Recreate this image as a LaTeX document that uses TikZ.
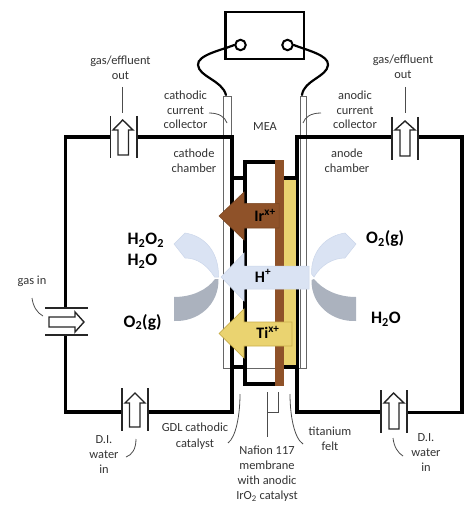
\documentclass[tikz,border=0pt]{standalone}
\usepackage{fontspec}
\setmainfont{Carlito}
\definecolor{txt}{HTML}{333333}
\definecolor{brn}{HTML}{8F5229}
\definecolor{brnb}{HTML}{7A4622}
\definecolor{ylw}{HTML}{EAD370}
\definecolor{ylwb}{HTML}{C9AE4A}
\definecolor{lblue}{HTML}{DAE3F3}
\definecolor{lblueb}{HTML}{CBD6EA}
\definecolor{gry}{HTML}{ABB2BE}
\tikzset{
  lab/.style={text=txt,font=\fontsize{12.4}{14}\selectfont,align=center,inner sep=0pt},
  chem/.style={text=black,font=\bfseries\fontsize{17.5}{18}\selectfont,inner sep=0pt},
  ion/.style={text=black,font=\bfseries\fontsize{16}{16}\selectfont,inner sep=0pt},
  wall/.style={line width=3.8pt,black,line cap=butt,line join=miter},
  plate/.style={line width=1.2pt,black!85},
  lead/.style={line width=0.8pt,black!70},
  hollow/.style={draw=black!85,fill=white,line width=1.4pt,line join=miter},
  wire/.style={line width=2.2pt,black,line cap=round},
}
\begin{document}
\begin{tikzpicture}[x=1pt,y=-1pt]
\useasboundingbox (0,0) rectangle (474,510);
% battery
\draw[line width=2.6pt] (225.5,12) rectangle (304,59);
\node[circle,draw,line width=2pt,fill=white,minimum size=10.5pt,inner sep=0pt] (tL) at (240.5,45) {};
\node[circle,draw,line width=2pt,fill=white,minimum size=10.5pt,inner sep=0pt] (tR) at (287.5,45) {};
% collectors
\draw[draw=black!60,fill=white,line width=0.7pt] (223.5,96) rectangle (231,368);
\draw[draw=black!60,fill=white,line width=0.7pt] (300,96) rectangle (306,368);
\draw[draw=black!60,line width=0.7pt] (223.5,368) -- (306,368);
% wires
\coordinate (cL) at (226,95);
\coordinate (cR) at (302,95);
\draw[wire] (tL.west) .. controls (222,50) and (197,55) .. (198,65) .. controls (199,77) and (222,80) .. (cL);
\draw[wire] (tR.east) .. controls (306,50) and (329,55) .. (328,65) .. controls (327,77) and (304,80) .. (cR);
% chamber walls
\draw[wall] (111,137) -- (65.5,137) -- (65.5,308);
\draw[wall] (65.5,335) -- (65.5,412) -- (122,412);
\draw[wall] (148,412) -- (232,412) -- (232,137) -- (137,137);
\draw[wall] (392,137) -- (297,137) -- (297,412) -- (381,412);
\draw[wall] (418,137) -- (462,137) -- (462,412.5) -- (407,412.5);
\draw[wall] (232,178) -- (245,178);
\draw[wall] (232,367) -- (245,367);
\draw[wall] (276,162) -- (245,162) -- (245,384) -- (276,384);
\draw[wall] (283,178) -- (297,178);
\draw[wall] (283,367) -- (297,367);
% MEA layers
\fill[ylw] (283,180) rectangle (295.5,365);
\fill[brn] (275,160) rectangle (284,385.5);
% valve plates
\draw[plate] (110.7,116) -- (110.7,158); \draw[plate] (137,116) -- (137,158);
\draw[plate] (392,117) -- (392,160); \draw[plate] (418,117) -- (418,160);
\draw[plate] (122,388) -- (122,431); \draw[plate] (148,388) -- (148,431);
\draw[plate] (381,390) -- (381,433); \draw[plate] (407,390) -- (407,433);
\draw[plate] (45,308) -- (88,308); \draw[plate] (45,335) -- (88,335);
% valve arrows
\draw[hollow] (122.7,120) -- (133,130) -- (128.5,130) -- (128.5,155) -- (118,155) -- (118,130) -- (113,130) -- cycle;
\draw[hollow] (405,121) -- (415,130) -- (410,130) -- (410,156) -- (400,156) -- (400,130) -- (395,130) -- cycle;
\draw[hollow] (135,393) -- (145,403) -- (140,403) -- (140,427) -- (129.5,427) -- (129.5,403) -- (125,403) -- cycle;
\draw[hollow] (393.5,393) -- (404,403) -- (399,403) -- (399,429) -- (389,429) -- (389,403) -- (384,403) -- cycle;
\draw[hollow] (84,322) -- (75,312) -- (75,317) -- (49,317) -- (49,327) -- (75,327) -- (75,332) -- cycle;
% curved arrows
\draw[draw=lblueb,fill=lblue,line width=0.5pt] (174,244) -- (185,233) .. controls (205,236) and (219,252) .. (218.5,277) -- (214.5,277) .. controls (207,265) and (197,258) .. (185,258) -- cycle;
\fill[gry] (174,297) .. controls (192,297) and (207,290) .. (215,279) -- (218.5,279) .. controls (219,305) and (198,322) .. (174,321) -- cycle;
\draw[draw=lblueb,fill=lblue,line width=0.5pt] (356,244) -- (345,233) .. controls (325,236) and (311,252) .. (311.5,274) -- (314,277) .. controls (321,265) and (333,258) .. (345,258) -- cycle;
\fill[gry] (356,297) .. controls (338,297) and (323,290) .. (314,279) -- (311.5,280) .. controls (311,305) and (332,322) .. (356,321) -- cycle;
% ion arrows
\draw[draw=brnb,fill=brn,line width=0.5pt] (219,216) -- (244,192) -- (244,203.5) -- (279,203.5) -- (279,228) -- (244,228) -- (244,240) -- cycle;
\draw[draw=lblueb,fill=lblue,line width=0.5pt] (221,277) -- (244,253) -- (244,266) -- (309,266) -- (309,289) -- (244,289) -- (244,301) -- cycle;
\draw[draw=ylwb,fill=ylw,line width=0.7pt] (219,333.5) -- (244,309) -- (244,322) -- (292,322) -- (292,346) -- (244,346) -- (244,358) -- cycle;
\node[ion] (ir) at (265,215.5) {Ir\textsuperscript{x+}};
\node[ion] (hp) at (263,276) {H\textsuperscript{+}};
\node[ion] (ti) at (268,332.5) {Ti\textsuperscript{x+}};
% chemical labels
\node[chem,anchor=west] (a1) at (127.5,240) {H\textsubscript{2}O\textsubscript{2}};
\node[chem,anchor=west] (a2) at (127.5,261) {H\textsubscript{2}O};
\node[chem,anchor=west] (a3) at (123.5,322) {O\textsubscript{2}(g)};
\node[chem,anchor=west] (a4) at (366,238.5) {O\textsubscript{2}(g)};
\node[chem,anchor=west] (a5) at (371,319.5) {H\textsubscript{2}O};
% text labels
\node[lab] (gasL) at (120.5,68) {gas/effluent\\[1pt]out};
\node[lab] (gasR) at (403,67) {gas/effluent\\[1pt]out};
\node[lab] (cathc) at (185.5,109.5) {cathodic\\[1pt]current\\[0pt]collector};
\node[lab] (anoc) at (355,109.5) {anodic\\[1pt]current\\[0pt]collector};
\node[lab] (mea) at (265,127) {MEA};
\node[lab] (cathch) at (194,160.5) {cathode\\[1pt]chamber};
\node[lab] (anoch) at (347,160.5) {anode\\[1pt]chamber};
\node[lab] (gasin) at (32,281) {gas in};
\node[lab] (diL) at (104,455) {D.I.\\[1pt]water\\[1pt]in};
\node[lab] (diR) at (426,453) {D.I.\\[1pt]water\\[1pt]in};
\node[lab] (gdl) at (195,436) {GDL cathodic\\[1.5pt]catalyst};
\node[lab] (naf) at (267,474) {Nafion 117\\[1pt]membrane\\[0.5pt]with anodic\\[1.5pt]IrO\textsubscript{2} catalyst};
\node[lab] (tif) at (330,438.5) {titanium\\[1pt]felt};
% leaders
\draw[lead] (122,87) -- (122,113);
\draw[lead] (405,87) -- (405,113);
\draw[lead] (209,113) .. controls (219,113) and (225,117) .. (227,123);
\draw[lead] (321,113) .. controls (311,113) and (305,117) .. (303,123);
\draw[lead] (32,298) .. controls (33,306) and (37,313) .. (43,316);
\draw[lead] (136,439) .. controls (136,449) and (132,455) .. (126,457);
\draw[lead] (393,438) .. controls (394,447) and (398,453) .. (403,456);
\draw[lead] (240,394) .. controls (240,415) and (236,437) .. (228,443);
\draw[lead] (290,394) .. controls (290,415) and (294,438) .. (303,444);
\draw[lead] (267,392) -- (267,437);
\draw[lead] (278,392) -- (278,412) -- (267,412);
\end{tikzpicture}
\end{document}
